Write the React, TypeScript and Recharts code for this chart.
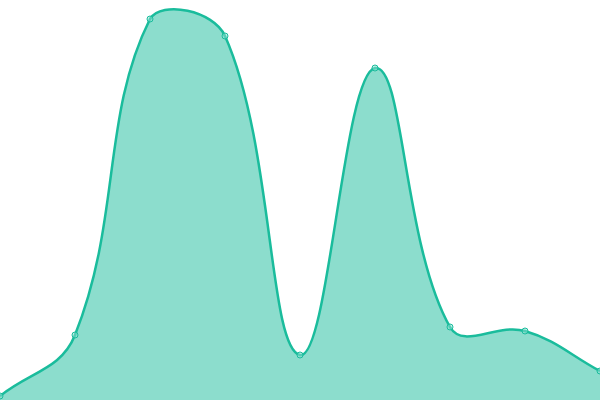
import { AreaChart, Area, XAxis, YAxis } from 'recharts'

const CATEGORIES = ['A', 'B', 'C', 'D', 'E', 'F', 'G', 'H', 'I']
const VALUES = [1, 16.25, 95.25, 91, 11.25, 83, 18.25, 17.25, 7.25]

const data = CATEGORIES.map((name, i) => ({ name, value: VALUES[i] }))

const W = 600
const H = 400
const TENSION = 0.4

// tension spline (Chart.js style), clamped to the plot box
function tensionCurve(context: any) {
  let line = NaN
  let pts: [number, number][] = []
  const clamp = (v: number, lo: number, hi: number) => Math.max(lo, Math.min(hi, v))
  return {
    areaStart() {
      line = 0
    },
    areaEnd() {
      line = NaN
    },
    lineStart() {
      pts = []
    },
    point(x: number, y: number) {
      pts.push([+x, +y])
    },
    lineEnd() {
      const n = pts.length
      if (n) {
        if (line) context.lineTo(pts[0][0], pts[0][1])
        else context.moveTo(pts[0][0], pts[0][1])
        const ctrl = pts.map((cur, i) => {
          const prev = pts[i - 1] || cur
          const next = pts[i + 1] || cur
          const d01 = Math.hypot(cur[0] - prev[0], cur[1] - prev[1])
          const d12 = Math.hypot(next[0] - cur[0], next[1] - cur[1])
          const sum = d01 + d12 || 1
          const fa = (TENSION * d01) / sum
          const fb = (TENSION * d12) / sum
          const dx = next[0] - prev[0]
          const dy = next[1] - prev[1]
          return {
            px: clamp(cur[0] - fa * dx, 0, W),
            py: clamp(cur[1] - fa * dy, 0, H),
            nx: clamp(cur[0] + fb * dx, 0, W),
            ny: clamp(cur[1] + fb * dy, 0, H),
          }
        })
        for (let i = 1; i < n; i++) {
          context.bezierCurveTo(ctrl[i - 1].nx, ctrl[i - 1].ny, ctrl[i].px, ctrl[i].py, pts[i][0], pts[i][1])
        }
      }
      if (line || (line !== 0 && n === 1)) context.closePath()
      line = 1 - line
    },
  }
}

export default function App() {
  return (
    <div style={{ position: 'absolute', top: 0, left: 0, width: W, height: H, background: '#fff' }}>
      <AreaChart width={W} height={H} data={data} margin={{ top: 0, right: 0, bottom: 0, left: 0 }}>
        <XAxis dataKey="name" hide padding={{ left: 0, right: 0 }} />
        <YAxis hide domain={[0, 100]} />
        <Area
          type={tensionCurve as any}
          dataKey="value"
          stroke="#1abc9c"
          strokeWidth={2.5}
          fill="#1abc9c"
          fillOpacity={0.5}
          dot={{ r: 3, fill: '#8ae0cf', stroke: '#1abc9c', strokeWidth: 1 }}
          activeDot={false}
          isAnimationActive={false}
        />
      </AreaChart>
    </div>
  )
}
